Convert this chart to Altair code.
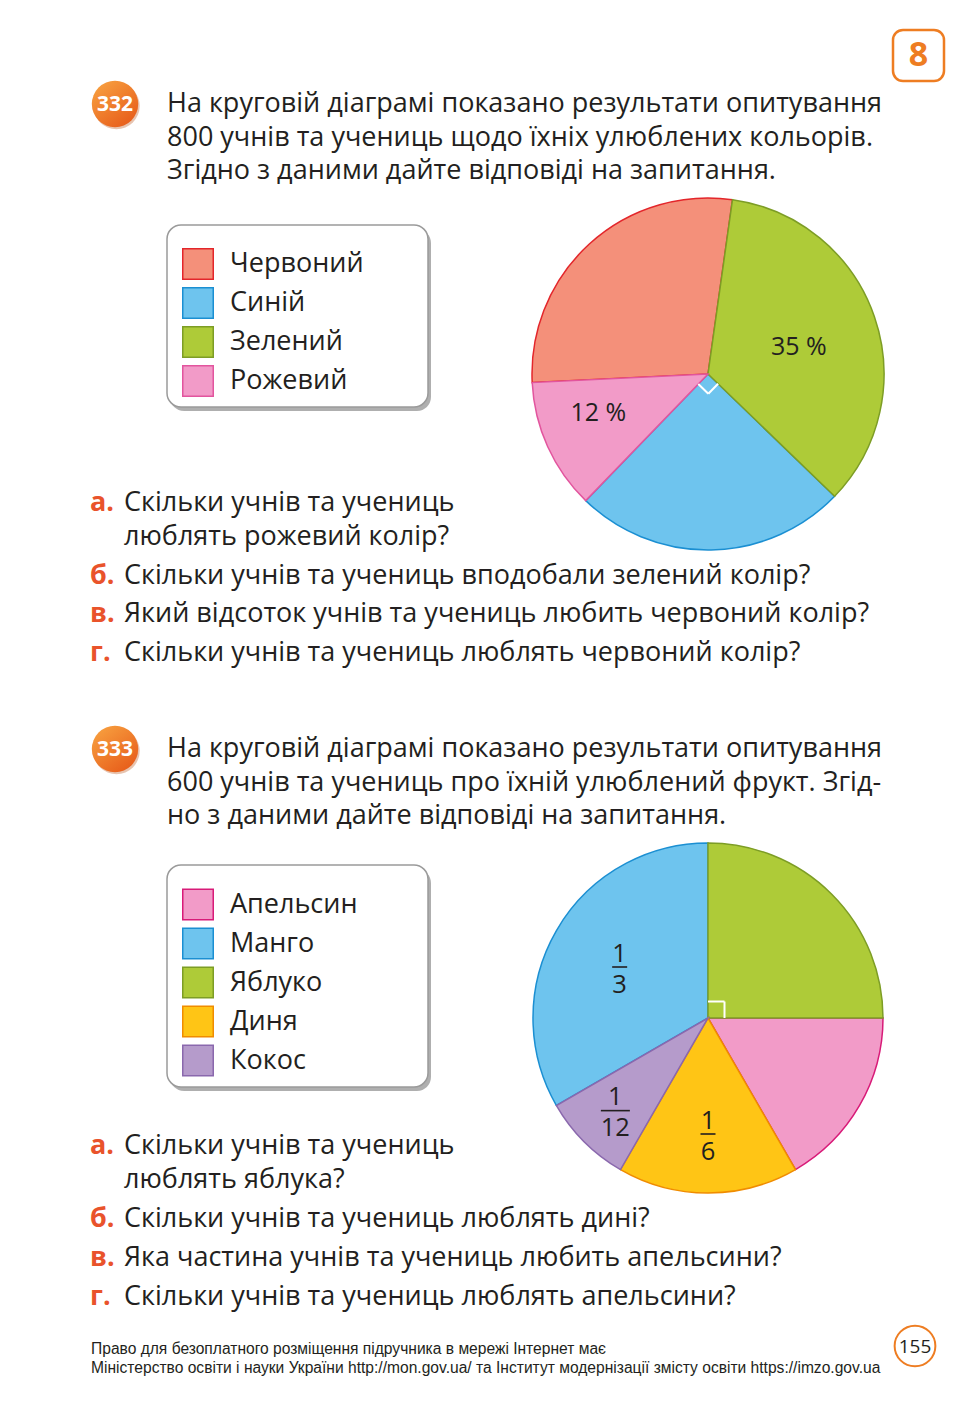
import math
import pandas as pd
import altair as alt

# ---------------- data ----------------
colour_names = ["Червоний", "Синій", "Зелений", "Рожевий"]      # legend order
colour_percent = [28, 25, 35, 12]
colour_labels = ["", "", "35 %", "12 %"]
colour_draw_order = ["Зелений", "Синій", "Рожевий", "Червоний"]  # clockwise from top

fruit_names = ["Апельсин", "Манго", "Яблуко", "Диня", "Кокос"]   # legend order
fruit_twelfths = [2, 4, 3, 2, 1]
fruit_numerators = ["", "1", "", "1", "1"]
fruit_denominators = ["", "3", "", "6", "12"]
fruit_draw_order = ["Яблуко", "Апельсин", "Диня", "Кокос", "Манго"]

task1_intro = [
    "На круговій діаграмі показано результати опитування",
    "800 учнів та учениць щодо їхніх улюблених кольорів.",
    "Згідно з даними дайте відповіді на запитання.",
]
task1_marks = ["а.", "", "б.", "в.", "г."]
task1_questions = [
    "Скільки учнів та учениць",
    "люблять рожевий колір?",
    "Скільки учнів та учениць вподобали зелений колір?",
    "Який відсоток учнів та учениць любить червоний колір?",
    "Скільки учнів та учениць люблять червоний колір?",
]
task2_intro = [
    "На круговій діаграмі показано результати опитування",
    "600 учнів та учениць про їхній улюблений фрукт. Згід-",
    "но з даними дайте відповіді на запитання.",
]
task2_marks = ["а.", "", "б.", "в.", "г."]
task2_questions = [
    "Скільки учнів та учениць",
    "люблять яблука?",
    "Скільки учнів та учениць люблять дині?",
    "Яка частина учнів та учениць любить апельсини?",
    "Скільки учнів та учениць люблять апельсини?",
]
footer_lines = [
    "Право для безоплатного розміщення підручника в мережі Інтернет має",
    "Міністерство освіти і науки України http://mon.gov.ua/ та Інститут модернізації змісту освіти https://imzo.gov.ua",
]

# ---------------- styles ----------------
FONT = "Open Sans"
BODY = 27
TXT = "#231f20"
ORANGE = "#ee7d22"
LETTER = "#e9532b"
OFF = 8
colour_fill = ["#f4907a", "#6ec4ee", "#aecb38", "#f29bc8"]
colour_edge = ["#e3262b", "#1b8fd2", "#7d9d25", "#e2559e"]
fruit_fill = ["#f29bc8", "#6ec4ee", "#aecb38", "#ffc515", "#b59bcb"]
fruit_edge = ["#d81b78", "#1b8fd2", "#7d9d25", "#f08c00", "#8a68ad"]

one = pd.DataFrame({"a": [0]})


def txt(x, y, s, size=BODY, color=TXT, weight="normal", align="left", font=FONT, baseline="alphabetic"):
    return alt.Chart(pd.DataFrame({"t": [s]})).mark_text(
        align=align, baseline=baseline, fontSize=size, font=font, fontWeight=weight, color=color
    ).encode(x=alt.value(x - OFF), y=alt.value(y - OFF), text="t:N")


def box(x1, y1, x2, y2, fill="white", stroke=None, sw=1.5, r=14, opacity=1.0):
    kw = dict(fill=fill, cornerRadius=r, opacity=opacity)
    if stroke:
        kw.update(stroke=stroke, strokeWidth=sw)
    return alt.Chart(one).mark_rect(**kw).encode(
        x=alt.value(x1 - OFF), x2=alt.value(x2 - OFF), y=alt.value(y1 - OFF), y2=alt.value(y2 - OFF)
    )


def rule(p, q, color="white", w=2):
    return alt.Chart(one).mark_rule(color=color, strokeWidth=w).encode(
        x=alt.value(p[0] - OFF), y=alt.value(p[1] - OFF), x2=alt.value(q[0] - OFF), y2=alt.value(q[1] - OFF)
    )


def polar(c, r, deg):
    a = math.radians(deg)
    return (c[0] + r * math.sin(a), c[1] - r * math.cos(a))


def legend(lx, ly):
    return alt.Legend(
        title=None, orient="none", legendX=lx - OFF, legendY=ly - OFF, symbolType="square",
        symbolSize=930, symbolStrokeWidth=1.5, symbolOpacity=1, labelFont=FONT, labelFontSize=27,
        labelColor=TXT, labelOffset=16, rowPadding=1, padding=0, labelLimit=400,
    )


layers = []

# ---------------- decorations ----------------
layers.append(box(893, 30, 944, 81, fill="white", stroke=ORANGE, sw=2.5, r=10))
layers.append(txt(918.5, 56, "8", size=34, color=ORANGE, weight="bold", align="center", baseline="middle"))

grad = alt.LinearGradient(gradient="linear", x1=0.2, y1=0.1, x2=0.8, y2=0.9,
                          stops=[alt.GradientStop(color="#f69a3c", offset=0),
                                 alt.GradientStop(color="#e8601c", offset=1)])
for cy, num in [(104, "332"), (749, "333")]:
    layers.append(alt.Chart(one).mark_circle(size=2150, color="#b9551c", opacity=0.35).encode(
        x=alt.value(116.5 - OFF), y=alt.value(cy + 2 - OFF)))
    layers.append(alt.Chart(one).mark_circle(size=2150, fill=grad, opacity=1).encode(
        x=alt.value(115 - OFF), y=alt.value(cy - OFF)))
    layers.append(txt(115, cy + 1, num, size=21, color="white", weight="bold", align="center", baseline="middle"))

layers.append(alt.Chart(one).mark_point(shape="circle", size=1660, filled=False, color=ORANGE, strokeWidth=2,
                                        opacity=1).encode(x=alt.value(915 - OFF), y=alt.value(1346 - OFF)))
layers.append(txt(915, 1347, "155", size=19, color=TXT, weight=500, align="center", baseline="middle"))

for (x1, y1, x2, y2) in [(167, 225, 428, 407), (167, 865, 428, 1087)]:
    layers.append(box(x1 + 3, y1 + 4, x2 + 3, y2 + 4, fill="#6d6d6d", r=14, opacity=0.55))
    layers.append(box(x1, y1, x2, y2, fill="white", stroke="#9a9a9a", sw=1.5, r=14))

# ---------------- pie 1 ----------------
C1 = (708, 374)
R1 = 176
START1 = 8
df1 = pd.DataFrame({"name": colour_names, "share": colour_percent, "label": colour_labels})
df1["k"] = df1["name"].map(colour_draw_order.index)
th1 = alt.Theta("share:Q", stack=True,
                scale=alt.Scale(range=[math.radians(START1), math.radians(START1) + 2 * math.pi]))
base1 = alt.Chart(df1).encode(theta=th1, order=alt.Order("k:Q"),
                              x=alt.value(C1[0] - OFF), y=alt.value(C1[1] - OFF))
arc1 = base1.mark_arc(radius=R1, strokeWidth=1.5).encode(
    color=alt.Color("name:N", scale=alt.Scale(domain=colour_names, range=colour_fill),
                    legend=legend(182, 248)),
    stroke=alt.Stroke("name:N", scale=alt.Scale(domain=colour_names, range=colour_edge),
                      legend=legend(182, 248)),
)
lab1 = []
for nm, rr, ddx, ddy in [("Зелений", 96, 0, 4), ("Рожевий", 115, -5, -9)]:
    lab1.append(base1.mark_text(radius=rr, dx=ddx, dy=ddy, fontSize=25, font=FONT, color=TXT,
                                baseline="middle").encode(
        text=alt.condition(alt.datum.name == nm, alt.Text("label:N"), alt.value(""))))
pie1 = alt.layer(arc1, *lab1)

cum = 0
for nm in colour_draw_order:
    v = colour_percent[colour_names.index(nm)]
    if nm == "Синій":
        a0 = START1 + 3.6 * cum
        a1 = START1 + 3.6 * (cum + v)
    cum += v
p0 = polar(C1, 14, a0)
p1 = polar(C1, 14, a1)
corner = (p0[0] + p1[0] - C1[0], p0[1] + p1[1] - C1[1])

# ---------------- pie 2 ----------------
C2 = (708, 1018)
R2 = 175
df2 = pd.DataFrame({"name": fruit_names, "part": fruit_twelfths,
                    "num": fruit_numerators, "den": fruit_denominators})
df2["k"] = df2["name"].map(fruit_draw_order.index)
th2 = alt.Theta("part:Q", stack=True, scale=alt.Scale(range=[0, 2 * math.pi]))
base2 = alt.Chart(df2).encode(theta=th2, order=alt.Order("k:Q"),
                              x=alt.value(C2[0] - OFF), y=alt.value(C2[1] - OFF))
arc2 = base2.mark_arc(radius=R2, strokeWidth=1.5).encode(
    color=alt.Color("name:N", scale=alt.Scale(domain=fruit_names, range=fruit_fill),
                    legend=legend(182, 888.5)),
    stroke=alt.Stroke("name:N", scale=alt.Scale(domain=fruit_names, range=fruit_edge),
                      legend=legend(182, 888.5)),
)
label_radius = {"Манго": 102, "Кокос": 131, "Диня": 116}
lab2 = []
for nm, rr in label_radius.items():
    for field, dy in [("num", -13.5), ("den", 17.5)]:
        lab2.append(base2.mark_text(radius=rr, dy=dy, fontSize=25.5, font=FONT, color=TXT,
                                    baseline="middle").encode(
            text=alt.condition(alt.datum.name == nm, alt.Text(field + ":N"), alt.value(""))))
pie2 = alt.layer(arc2, *lab2)

# fraction bars, placed at each labelled sector's middle angle
total = sum(fruit_twelfths)
cum = 0
bars = []
for nm in fruit_draw_order:
    i = fruit_names.index(nm)
    v = fruit_twelfths[i]
    if nm in label_radius:
        mid = 360.0 * (cum + v / 2) / total
        cx, cy = polar(C2, label_radius[nm], mid)
        w = 14 * len(fruit_denominators[i]) + 1
        bars.append(rule((cx - w / 2, cy), (cx + w / 2, cy), color=TXT, w=1.6))
    cum += v

q0 = polar(C2, 16.5, 0)
q1 = polar(C2, 16.5, 90)
corner2 = (q0[0] + q1[0] - C2[0], q0[1] + q1[1] - C2[1])

layers += [pie1, pie2]
layers += bars
layers += [rule(p0, corner), rule(corner, p1), rule(q0, corner2), rule(corner2, q1)]

# ---------------- texts ----------------
for i, s in enumerate(task1_intro):
    layers.append(txt(167, 112 + 33.5 * i, s))
for s, m, y in zip(task1_questions, task1_marks, [511, 545, 584, 622, 661]):
    if m:
        layers.append(txt(90, y, m, color=LETTER, weight="bold"))
    layers.append(txt(124, y, s))
for i, s in enumerate(task2_intro):
    layers.append(txt(167, 757 + 33.5 * i, s))
for s, m, y in zip(task2_questions, task2_marks, [1154, 1188, 1227, 1266, 1305]):
    if m:
        layers.append(txt(90, y, m, color=LETTER, weight="bold"))
    layers.append(txt(124, y, s))
for i, s in enumerate(footer_lines):
    layers.append(txt(91, 1354 + 19 * i, s, size=15.6, font="Liberation Sans Narrow, Arial Narrow, Liberation Sans"))

chart = alt.layer(*layers).resolve_scale(
    theta="independent", color="independent", stroke="independent"
).properties(
    width=958, height=1390, autosize=alt.AutoSizeParams(type="none"), padding=0
).configure_view(stroke=None)

chart.save("out.html", embed_options={"renderer": "svg", "actions": False})
